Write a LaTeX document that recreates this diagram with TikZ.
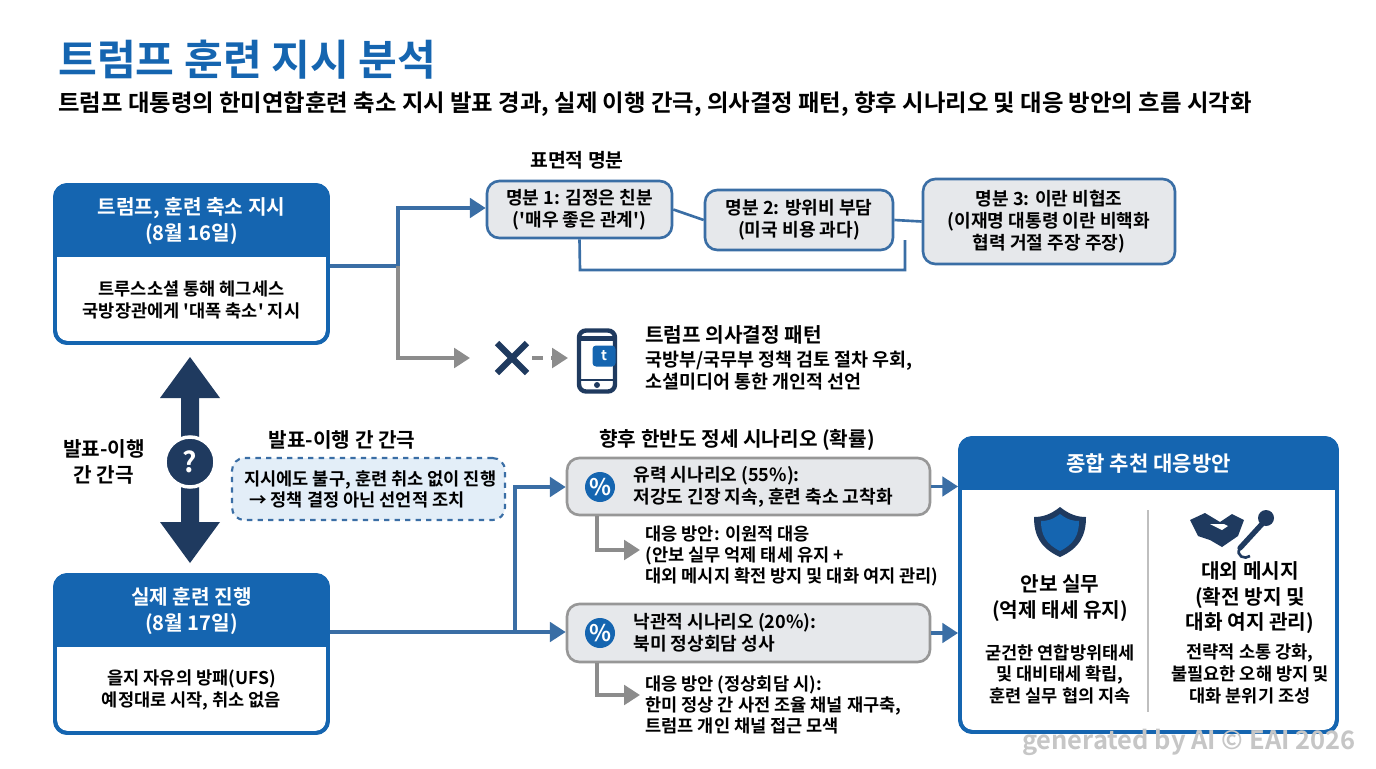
\documentclass[tikz,border=0pt]{standalone}
\usepackage{fontspec}
\setmainfont{Noto Sans CJK KR}[BoldFont={Noto Sans CJK KR Bold}]
\usetikzlibrary{arrows.meta,positioning}
\definecolor{bl}{HTML}{1565B0}
\definecolor{nv}{HTML}{1F3A5F}
\definecolor{ln}{HTML}{3A6EA5}
\definecolor{gr}{HTML}{8C8C8C}
\definecolor{bx}{HTML}{E6E8EB}
\definecolor{lb}{HTML}{E3EEF8}
\newcommand{\sq}{\textquotesingle}
\begin{document}
\begin{tikzpicture}[x=0.02cm,y=-0.02cm,font=\bfseries,
  hdrbox/.style={draw=bl,line width=2.2pt,rounded corners=7pt,fill=white,inner sep=0},
  mb/.style={draw=ln,line width=1.5pt,rounded corners=7pt,fill=bx,align=center,font=\bfseries\fontsize{10.3}{12.5}\selectfont,inner sep=3pt},
  sc/.style={draw=gr!90,line width=1.5pt,rounded corners=7pt,fill=bx,inner sep=0},
  ba/.style={line width=2.2pt,draw=ln,-{Triangle[length=9pt,width=11pt]}},
  bl2/.style={line width=2.2pt,draw=ln},
  ga/.style={line width=2.2pt,draw=gr,-{Triangle[length=9pt,width=11pt]}},
  t10/.style={font=\bfseries\fontsize{10}{12}\selectfont,align=left,anchor=west,inner sep=0},
  tc/.style={font=\bfseries\fontsize{10}{12.3}\selectfont,align=center,inner sep=0},
  hw/.style={font=\bfseries\fontsize{11.5}{14.5}\selectfont,align=center,text=white,inner sep=0},
]
\useasboundingbox (0,0) rectangle (1376,768);
\fill[white] (0,0) rectangle (1376,768);
% title
\node[anchor=west,text=bl,font=\bfseries\fontsize{24}{26}\selectfont,inner sep=0] (title) at (58,60) {트럼프 훈련 지시 분석};
\node[anchor=west,font=\bfseries\fontsize{13.3}{15}\selectfont,inner sep=0] (sub) at (58,104) {트럼프 대통령의 한미연합훈련 축소 지시 발표 경과, 실제 이행 간극, 의사결정 패턴, 향후 시나리오 및 대응 방안의 흐름 시각화};
% box 1
\node[hdrbox,minimum width=5.46cm,minimum height=3.16cm] (b1) at (191.5,264) {};
\begin{scope}\clip[rounded corners=7pt] (55,185) rectangle (328,343);
\fill[bl] (55,185) rectangle (328,257);\end{scope}
\draw[bl,line width=2.2pt,rounded corners=7pt] (55,185) rectangle (328,343);
\node[hw] (b1h) at (191.5,221) {트럼프, 훈련 축소 지시\\(8월 16일)};
\node[tc] (b1t) at (191.5,300) {트루스소셜 통해 헤그세스\\국방장관에게 \sq 대폭 축소\sq\ 지시};
% box 2
\node[hdrbox,minimum width=5.46cm,minimum height=3.16cm] (b2) at (191.5,654) {};
\begin{scope}\clip[rounded corners=7pt] (55,575) rectangle (328,733);
\fill[bl] (55,575) rectangle (328,647);\end{scope}
\draw[bl,line width=2.2pt,rounded corners=7pt] (55,575) rectangle (328,733);
\node[hw] (b2h) at (191.5,611) {실제 훈련 진행\\(8월 17일)};
\node[tc] (b2t) at (191.5,690) {을지 자유의 방패(UFS)\\예정대로 시작, 취소 없음};
% double arrow
\fill[nv] (190,357) -- (220,398) -- (199,398) -- (199,522) -- (220,522) -- (190,563) -- (160,522) -- (181,522) -- (181,398) -- (160,398) -- cycle;
\node[circle,fill=nv,draw=white,line width=2pt,minimum size=1.0cm,text=white,font=\bfseries\fontsize{16}{16}\selectfont,inner sep=0] (q) at (190,462) {?};
\node[tc,font=\bfseries\fontsize{11.5}{14.5}\selectfont] (gapl) at (104,462) {발표-이행\\간 간극};
\node[tc,font=\bfseries\fontsize{11.5}{13}\selectfont] (gaph) at (342,440) {발표-이행 간 간극};
\node[draw=ln,dashed,line width=1.2pt,rounded corners=7pt,fill=lb,minimum width=5.46cm,minimum height=1.24cm,inner sep=0] (gapb) at (368.5,489) {};
\node[t10] (gapt) at (244,489) {지시에도 불구, 훈련 취소 없이 진행\\ \;→ 정책 결정 아닌 선언적 조치};
% rationales
\node[tc,font=\bfseries\fontsize{11}{13}\selectfont] (rh) at (577,160) {표면적 명분};
\node[mb,minimum width=3.7cm,minimum height=1.14cm] (r1) at (579.5,209.5) {명분 1: 김정은 친분\\(\sq 매우 좋은 관계\sq)};
\node[mb,minimum width=3.76cm,minimum height=1.2cm] (r2) at (799,220) {명분 2: 방위비 부담\\(미국 비용 과다)};
\node[mb,minimum width=5.04cm,minimum height=1.7cm] (r3) at (1049,221.5) {명분 3: 이란 비협조\\(이재명 대통령 이란 비핵화\\협력 거절 주장 주장)};
\draw[ln,line width=1.5pt] (r1.east) -- (r2.west);
\draw[ln,line width=1.5pt] (r2.east) -- (r3.west);
\draw[ln,line width=1.5pt] (r1.south) -- (580,270) -- (905,270) -- (905,240);
% connectors from b1
\coordinate (j1) at (398,266);
\draw[bl2] (b1.east |- j1) -- (j1);
\draw[ba] (j1) -- (398,208) -- (r1.west |- 0,208);
\draw[ga] (j1) -- (398,358) -- (470,358);
\draw[nv,line width=3.5pt] (497,343) -- (527,373) (527,343) -- (497,373);
\coordinate (d1) at (532,358);
\coordinate (d2) at (568,358);
\draw[gr,line width=2.8pt,dash pattern=on 6pt off 5pt,-{Triangle[length=9pt,width=11pt]}] (d1) -- (d2);
% phone icon
\node[draw=nv,line width=2.5pt,rounded corners=4pt,minimum width=0.72cm,minimum height=1.22cm,inner sep=0] (ph) at (597,361) {};
\fill[nv] (580,336) rectangle (614,341);
\fill[nv] (580,379) rectangle (614,381);
\fill[nv] (597,385) circle (3);
\node[fill=bl,rounded corners=2pt,minimum width=0.46cm,minimum height=0.42cm,inner sep=0,text=white,font=\bfseries\fontsize{8}{8}\selectfont] (tw) at (604,356) {t};
\node[t10,font=\bfseries\fontsize{11.5}{13}\selectfont] (dph) at (645,335) {트럼프 의사결정 패턴};
\node[t10,font=\bfseries\fontsize{10.5}{12.5}\selectfont] (dpt) at (645,371) {국방부/국무부 정책 검토 절차 우회,\\소셜미디어 통한 개인적 선언};
% scenarios
\node[tc,font=\bfseries\fontsize{11.5}{13}\selectfont] (sh) at (737,440) {향후 한반도 정세 시나리오 (확률)};
\node[sc,minimum width=7.26cm,minimum height=1.14cm] (s1) at (748.5,486.5) {};
\node[sc,minimum width=7.26cm,minimum height=1.16cm] (s2) at (748.5,633) {};
\node[circle,fill=bl,minimum size=0.6cm,text=white,inner sep=0,font=\bfseries\fontsize{13}{13}\selectfont] (p1) at (600,487) {\%};
\node[circle,fill=bl,minimum size=0.6cm,text=white,inner sep=0,font=\bfseries\fontsize{13}{13}\selectfont] (p2) at (600,633) {\%};
\node[t10,font=\bfseries\fontsize{10.3}{12.5}\selectfont] (s1t) at (633,487) {유력 시나리오 (55\%):\\저강도 긴장 지속, 훈련 축소 고착화};
\node[t10,font=\bfseries\fontsize{10.3}{12.5}\selectfont] (s2t) at (633,633) {낙관적 시나리오 (20\%):\\북미 정상회담 성사};
\coordinate (j2) at (515,632);
\draw[bl2] (b2.east |- j2) -- (j2);
\draw[ba] (j2) -- (515,487) -- (s1.west |- 0,487);
\draw[ba] (j2) -- (s2.west |- j2);
\draw[ga] (597,516) -- (597,550) -- (640,550);
\draw[ga] (597,663) -- (597,695) -- (640,695);
\node[t10] (c1) at (645,556) {대응 방안: 이원적 대응\\(안보 실무 억제 태세 유지 +\\대외 메시지 확전 방지 및 대화 여지 관리)};
\node[t10] (c2) at (645,705) {대응 방안 (정상회담 시):\\한미 정상 간 사전 조율 채널 재구축,\\트럼프 개인 채널 접근 모색};
% big box
\node[hdrbox,minimum width=7.54cm,minimum height=5.88cm] (bb) at (1148.5,585) {};
\begin{scope}\clip[rounded corners=7pt] (960,438) rectangle (1337,732);
\fill[bl] (960,438) rectangle (1337,490);\end{scope}
\draw[bl,line width=2.2pt,rounded corners=7pt] (960,438) rectangle (1337,732);
\node[hw,font=\bfseries\fontsize{12}{14}\selectfont] (bbh) at (1148.5,464) {종합 추천 대응방안};
\draw[ba] (s1.east) -- (bb.west |- s1.east);
\draw[ba] (s2.east) -- (bb.west |- s2.east);
\draw[gray!50,line width=0.8pt] (1148,510) -- (1148,712);
% shield
\fill[nv] (1060,507) .. controls (1070,515) and (1078,517) .. (1086,517) .. controls (1086,535) and (1080,548) .. (1060,557) .. controls (1040,548) and (1034,535) .. (1034,517) .. controls (1042,517) and (1050,515) .. (1060,507) -- cycle;
\fill[bl] (1060,514) .. controls (1068,520) and (1073,521) .. (1079,521) .. controls (1079,535) and (1074,544) .. (1060,551) .. controls (1046,544) and (1041,535) .. (1041,521) .. controls (1047,521) and (1052,520) .. (1060,514) -- cycle;
% handshake + mic
\fill[nv] (1190,520) -- (1205,513) -- (1220,522) -- (1232,514) -- (1244,520) -- (1238,536) -- (1222,547) -- (1210,540) -- (1198,536) -- cycle;
\fill[white] (1210,524) -- (1222,530) -- (1228,526) -- (1224,524) -- cycle;
\draw[nv,line width=3pt,line cap=round] (1262,524) -- (1240,548);
\fill[nv] (1266,518) circle (8);
\draw[nv,line width=1.5pt] (1240,548) .. controls (1235,556) and (1245,560) .. (1250,556);
\node[tc,font=\bfseries\fontsize{11.5}{14.5}\selectfont] (l1) at (1060,598) {안보 실무\\(억제 태세 유지)};
\node[tc] (l2) at (1060,674) {굳건한 연합방위태세\\및 대비태세 확립,\\훈련 실무 협의 지속};
\node[tc,font=\bfseries\fontsize{11.5}{14.5}\selectfont] (r1t) at (1250,598) {대외 메시지\\(확전 방지 및\\대화 여지 관리)};
\node[tc] (r2t) at (1250,674) {전략적 소통 강화,\\불필요한 오해 방지 및\\대화 분위기 조성};
\node[text=gray!45,font=\bfseries\fontsize{14.5}{14.5}\selectfont,inner sep=0,anchor=east] (wm) at (1356,742) {generated by AI © EAI 2026};
\end{tikzpicture}
\end{document}
